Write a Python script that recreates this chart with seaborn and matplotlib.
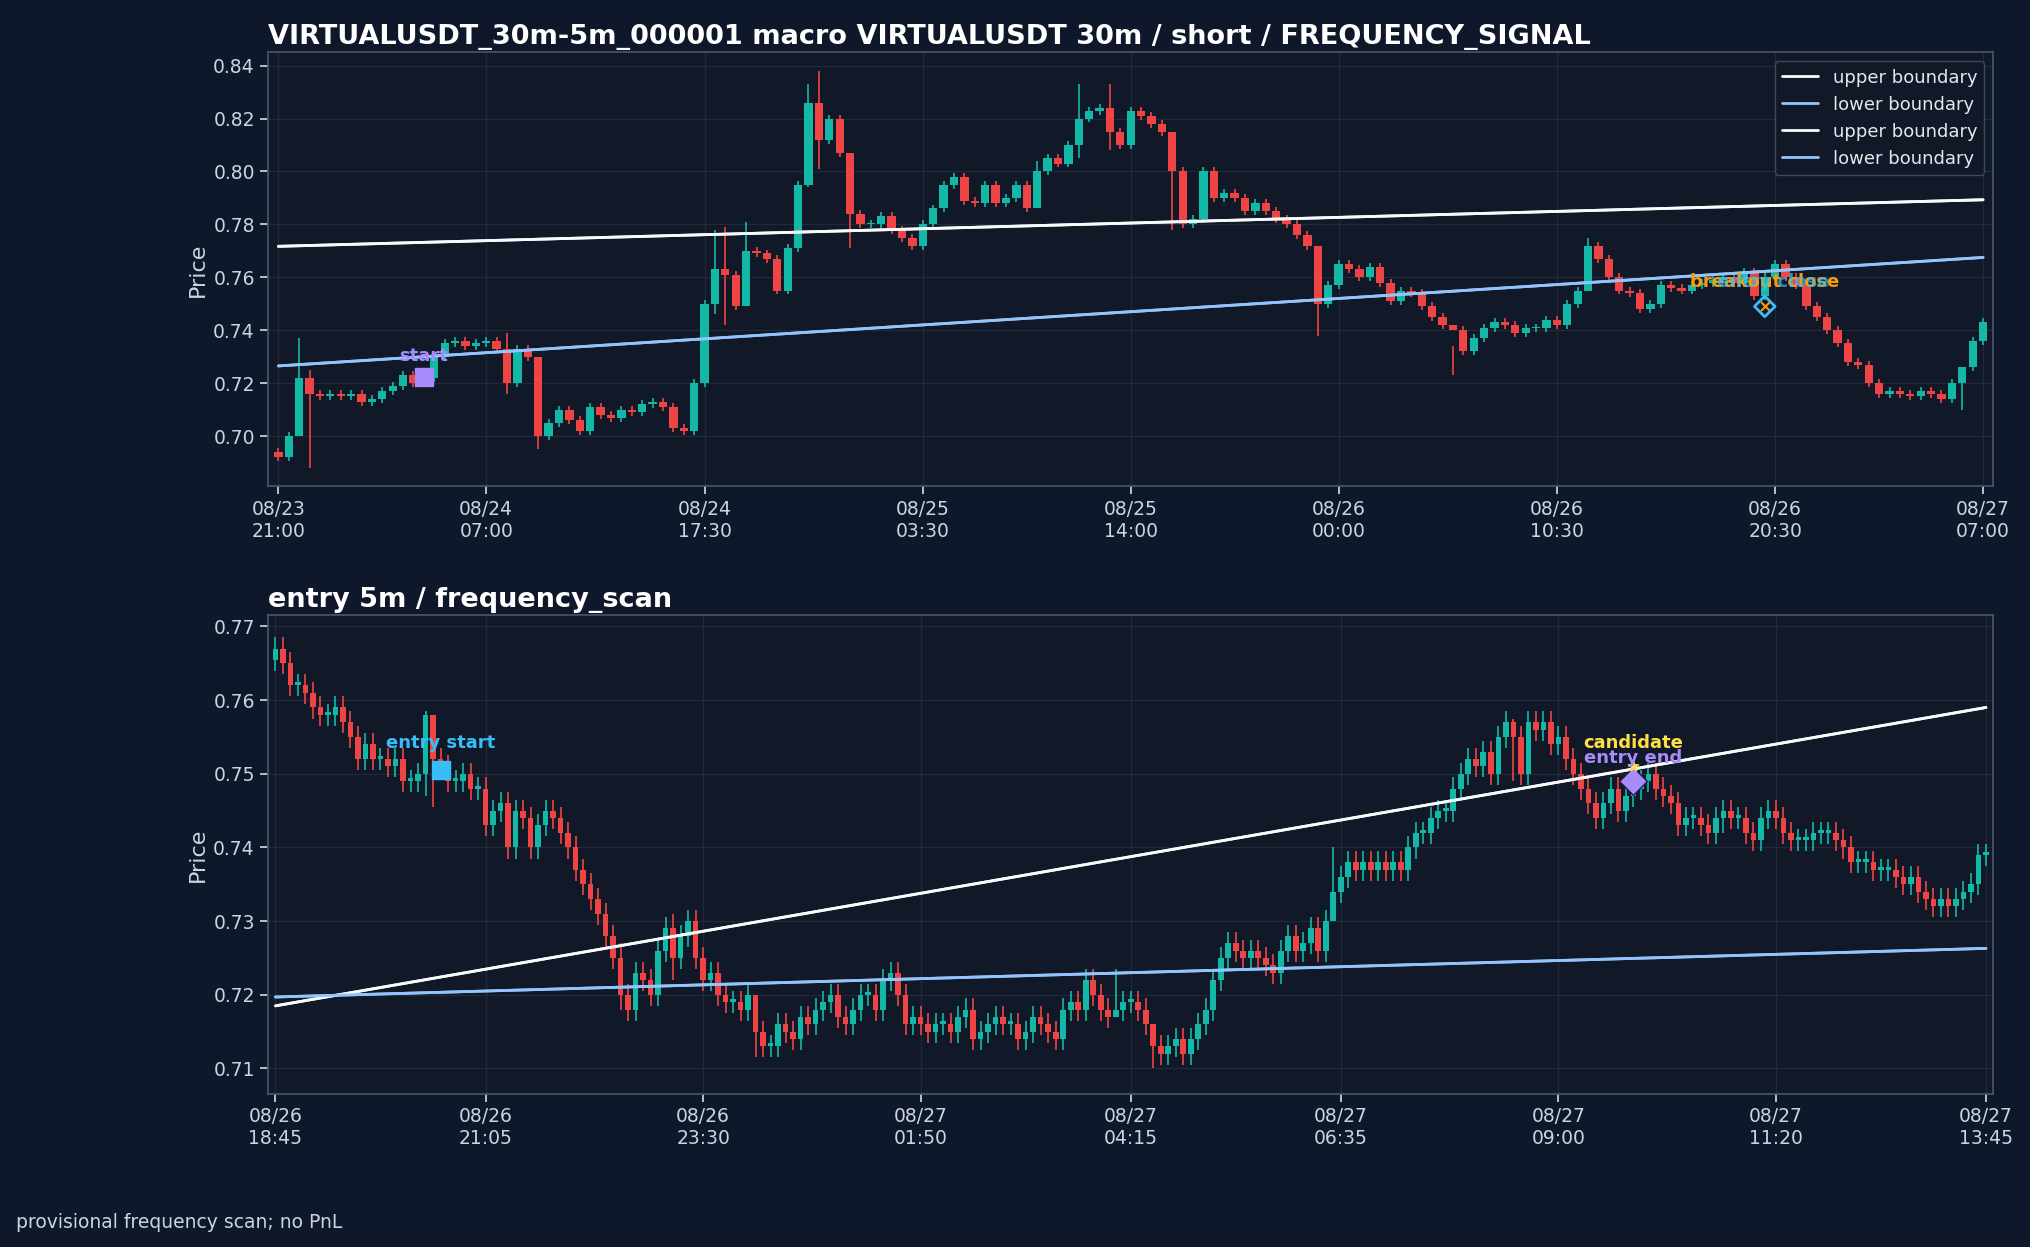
import numpy as np
import pandas as pd
import matplotlib
matplotlib.use("Agg")
import matplotlib.pyplot as plt
import seaborn as sns

# macro 30m closes
macro_close = [
    0.692, 0.700, 0.722, 0.716, 0.715, 0.716, 0.715, 0.716, 0.713, 0.714,
    0.717, 0.719, 0.723, 0.720, 0.722, 0.730, 0.735, 0.736, 0.734, 0.735,
    0.736, 0.733, 0.720, 0.733, 0.730, 0.700, 0.705, 0.710, 0.706, 0.702,
    0.711, 0.708, 0.707, 0.710, 0.709, 0.712, 0.713, 0.711, 0.703, 0.702,
    0.720, 0.750, 0.763, 0.761, 0.749, 0.770, 0.769, 0.767, 0.755, 0.771,
    0.795, 0.826, 0.812, 0.820, 0.807, 0.784, 0.780, 0.780, 0.783, 0.778,
    0.775, 0.772, 0.780, 0.786, 0.795, 0.798, 0.789, 0.788, 0.795, 0.788,
    0.790, 0.795, 0.786, 0.800, 0.805, 0.803, 0.810, 0.820, 0.823, 0.824,
    0.815, 0.810, 0.823, 0.821, 0.818, 0.815, 0.800, 0.780, 0.782, 0.800,
    0.790, 0.792, 0.790, 0.785, 0.788, 0.785, 0.782, 0.780, 0.776, 0.772,
    0.750, 0.757, 0.765, 0.763, 0.760, 0.764, 0.758, 0.751, 0.755, 0.754,
    0.749, 0.745, 0.742, 0.740, 0.732, 0.737, 0.741, 0.743, 0.742, 0.739,
    0.741, 0.741, 0.744, 0.742, 0.750, 0.755, 0.772, 0.767, 0.760, 0.755,
    0.754, 0.748, 0.750, 0.757, 0.756, 0.755, 0.757, 0.758, 0.759, 0.760,
    0.758, 0.762, 0.753, 0.760, 0.765, 0.760, 0.757, 0.749, 0.745, 0.740,
    0.735, 0.728, 0.727, 0.720, 0.716, 0.717, 0.716, 0.715, 0.717, 0.716,
    0.714, 0.720, 0.726, 0.736, 0.743,
]
macro_open0 = 0.694
macro_wicks = {2: (0.737, 0.700), 3: (0.725, 0.688), 22: (0.739, 0.716), 25: (0.713, 0.695),
               42: (0.778, 0.746), 43: (0.779, 0.742), 45: (0.781, 0.766), 51: (0.833, 0.794),
               52: (0.838, 0.801), 55: (0.789, 0.771), 73: (0.804, 0.787), 77: (0.833, 0.805),
               80: (0.833, 0.808), 86: (0.803, 0.778), 100: (0.771, 0.738), 113: (0.734, 0.723),
               126: (0.775, 0.755), 162: (0.722, 0.710)}
macro_ticks = ["08/23\n21:00", "08/24\n07:00", "08/24\n17:30", "08/25\n03:30", "08/25\n14:00",
               "08/26\n00:00", "08/26\n10:30", "08/26\n20:30", "08/27\n07:00"]
macro_upper = [0.7717, 0.7893]
macro_lower = [0.7265, 0.7675]

# entry 5m closes
entry_close = [
    0.767, 0.765, 0.762, 0.762, 0.761, 0.759, 0.758, 0.758, 0.759, 0.757,
    0.755, 0.752, 0.754, 0.752, 0.752, 0.751, 0.752, 0.749, 0.749, 0.750,
    0.758, 0.752, 0.751, 0.749, 0.749, 0.750, 0.748, 0.748, 0.743, 0.745,
    0.746, 0.740, 0.745, 0.744, 0.740, 0.743, 0.745, 0.744, 0.742, 0.740,
    0.737, 0.735, 0.733, 0.731, 0.728, 0.725, 0.720, 0.718, 0.723, 0.722,
    0.720, 0.726, 0.729, 0.725, 0.728, 0.730, 0.725, 0.722, 0.723, 0.720,
    0.719, 0.719, 0.718, 0.720, 0.715, 0.713, 0.713, 0.716, 0.715, 0.714,
    0.717, 0.716, 0.718, 0.719, 0.720, 0.717, 0.716, 0.718, 0.720, 0.720,
    0.718, 0.722, 0.723, 0.720, 0.716, 0.717, 0.716, 0.715, 0.716, 0.716,
    0.715, 0.717, 0.718, 0.714, 0.715, 0.716, 0.717, 0.716, 0.716, 0.714,
    0.715, 0.717, 0.716, 0.715, 0.714, 0.718, 0.719, 0.718, 0.722, 0.720,
    0.718, 0.717, 0.718, 0.719, 0.719, 0.718, 0.716, 0.713, 0.712, 0.713,
    0.714, 0.712, 0.714, 0.716, 0.718, 0.722, 0.725, 0.727, 0.726, 0.725,
    0.726, 0.725, 0.724, 0.723, 0.726, 0.728, 0.726, 0.727, 0.729, 0.726,
    0.730, 0.734, 0.736, 0.738, 0.737, 0.738, 0.737, 0.738, 0.737, 0.738,
    0.737, 0.740, 0.742, 0.742, 0.744, 0.745, 0.745, 0.748, 0.750, 0.752,
    0.751, 0.753, 0.750, 0.755, 0.757, 0.755, 0.750, 0.757, 0.756, 0.757,
    0.754, 0.755, 0.752, 0.750, 0.748, 0.746, 0.744, 0.746, 0.748, 0.745,
    0.747, 0.748, 0.749, 0.750, 0.748, 0.747, 0.746, 0.743, 0.744, 0.744,
    0.743, 0.742, 0.744, 0.745, 0.744, 0.744, 0.742, 0.741, 0.744, 0.745,
    0.744, 0.742, 0.741, 0.741, 0.741, 0.742, 0.742, 0.742, 0.741, 0.740,
    0.738, 0.738, 0.738, 0.737, 0.737, 0.737, 0.736, 0.735, 0.736, 0.734,
    0.733, 0.732, 0.733, 0.732, 0.733, 0.734, 0.735, 0.739, 0.739,
]
entry_open0 = 0.7655
entry_wicks = {20: (0.7585, 0.747), 21: (0.758, 0.7455), 46: (0.727, 0.718), 53: (0.731, 0.722),
               64: (0.720, 0.7115), 112: (0.7235, 0.717), 117: (0.7155, 0.710), 141: (0.740, 0.733),
               165: (0.7575, 0.749), 193: (0.7465, 0.742)}
entry_ticks = ["08/26\n18:45", "08/26\n21:05", "08/26\n23:30", "08/27\n01:50", "08/27\n04:15",
               "08/27\n06:35", "08/27\n09:00", "08/27\n11:20", "08/27\n13:45"]
entry_upper = [0.7185, 0.7590]
entry_lower = [0.7197, 0.7263]

UP, DOWN = "#14b8a6", "#ef4444"
BG, AXBG = "#0f172a", "#111827"

sns.set_theme(style="darkgrid")
plt.rcParams.update({
    "figure.facecolor": BG, "axes.facecolor": AXBG, "axes.edgecolor": "#475569",
    "grid.color": "#1f2937", "text.color": "#e5e7eb", "axes.labelcolor": "#cbd5e1",
    "xtick.color": "#cbd5e1", "ytick.color": "#cbd5e1", "xtick.bottom": True, "ytick.left": True,
})
plt.rcParams["font.family"] = ["DejaVu Sans"]


def candles(ax, closes, open0, wicks, width):
    c = np.array(closes)
    o = np.concatenate([[open0], c[:-1]])
    x = np.arange(len(c))
    hi = np.maximum(o, c) + 0.0015
    lo = np.minimum(o, c) - 0.0015
    for k, (h, l) in wicks.items():
        if k < len(c):
            hi[k], lo[k] = h, l
    col = np.where(c >= o, UP, DOWN)
    ax.vlines(x, lo, hi, colors=col, linewidth=1.2, zorder=2)
    body = np.maximum(np.abs(c - o), 0.0004)
    ax.bar(x, body, bottom=np.minimum(o, c), width=width, color=col, zorder=3, linewidth=0)
    return len(c)


def boundaries(ax, n, upper, lower, legend):
    for _ in range(2):
        df = pd.DataFrame({"x": [0, n - 1], "upper": upper, "lower": lower})
        sns.lineplot(data=df, x="x", y="upper", ax=ax, color="#f8fafc", linewidth=2,
                     label="upper boundary" if legend else None, zorder=4)
        sns.lineplot(data=df, x="x", y="lower", ax=ax, color="#93c5fd", linewidth=2,
                     label="lower boundary" if legend else None, zorder=4)


fig = plt.figure(figsize=(20.3, 12.47), dpi=100)
ax1 = fig.add_axes([0.132, 0.610, 0.850, 0.348])
ax2 = fig.add_axes([0.132, 0.1225, 0.850, 0.384])

n1 = candles(ax1, macro_close, macro_open0, macro_wicks, 0.8)
boundaries(ax1, n1, macro_upper, macro_lower, True)
ax1.scatter([14], [0.7222], marker="s", s=160, color="#a78bfa", zorder=6)
ax1.text(14, 0.7285, "start", color="#a78bfa", ha="center", fontsize=13, fontweight="bold", zorder=7)
ax1.scatter([143], [0.749], marker="D", s=110, facecolor="none", edgecolor="#38bdf8", linewidth=2, zorder=6)
ax1.scatter([143], [0.749], marker="x", s=40, color="#f59e0b", zorder=7)
ax1.text(143, 0.7565, "breakout close", color="#f59e0b", ha="center", fontsize=13, fontweight="bold", zorder=7)
ax1.text(143.8, 0.7565, "entry close", color="#38bdf8", ha="center", fontsize=13, fontweight="bold", alpha=0.7, zorder=7)
ax1.set_xlim(-1, n1)
ax1.set_ylim(0.681, 0.845)
ax1.set_yticks(np.arange(0.70, 0.841, 0.02))
ax1.set_xticks(np.round(np.linspace(0, n1 - 1, 9)))
ax1.set_xticklabels(macro_ticks)
ax1.set_xlabel("")
ax1.set_ylabel("Price", fontsize=16)
ax1.set_title("VIRTUALUSDT_30m-5m_000001 macro VIRTUALUSDT 30m / short / FREQUENCY_SIGNAL",
              loc="left", fontsize=19.5, fontweight="bold", color="white")
leg = ax1.legend(loc="upper right", fontsize=13, facecolor=AXBG, edgecolor="#475569", labelcolor="#e5e7eb")

n2 = candles(ax2, entry_close, entry_open0, entry_wicks, 0.75)
boundaries(ax2, n2, entry_upper, entry_lower, False)
ax2.scatter([22], [0.7505], marker="s", s=160, color="#38bdf8", zorder=6)
ax2.text(22, 0.7535, "entry start", color="#38bdf8", ha="center", fontsize=13, fontweight="bold", zorder=7)
ax2.scatter([181], [0.751], marker="*", s=60, color="#fde047", zorder=7)
ax2.scatter([181], [0.749], marker="D", s=200, color="#a78bfa", edgecolor="#1e1b4b", zorder=6)
ax2.text(181, 0.7535, "candidate", color="#fde047", ha="center", fontsize=13, fontweight="bold", zorder=7)
ax2.text(181, 0.7515, "entry end", color="#a78bfa", ha="center", fontsize=13, fontweight="bold", zorder=7)
ax2.set_xlim(-1, n2)
ax2.set_ylim(0.7065, 0.7715)
ax2.set_yticks(np.arange(0.71, 0.771, 0.01))
ax2.set_xticks(np.round(np.linspace(0, n2 - 1, 9)))
ax2.set_xticklabels(entry_ticks)
ax2.set_xlabel("")
ax2.set_ylabel("Price", fontsize=16)
ax2.set_title("entry 5m / frequency_scan", loc="left", fontsize=19.5, fontweight="bold", color="white")

for ax in (ax1, ax2):
    ax.tick_params(labelsize=13.5)
    ax.yaxis.set_major_formatter(matplotlib.ticker.FormatStrFormatter("%.2f"))

fig.text(0.008, 0.015, "provisional frequency scan; no PnL", fontsize=13.5, color="#cbd5e1")
fig.savefig("out.png", facecolor=BG)
